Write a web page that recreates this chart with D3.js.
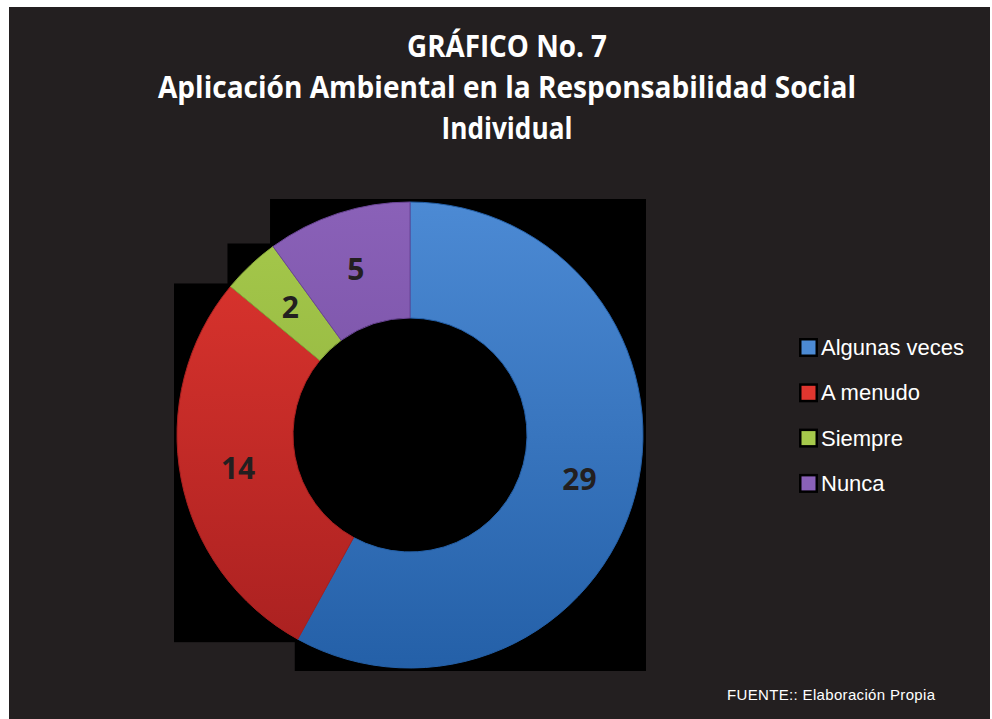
<!DOCTYPE html>
<html>
<head>
<meta charset="utf-8">
<script src="https://cdn.jsdelivr.net/npm/d3@7"></script>
<style>
  body { margin: 0; background: #fff; }
  svg { display: block; }
</style>
</head>
<body>
<svg id="main" width="992" height="719"></svg>
<script>
const categories = [ "Algunas veces", "A menudo", "Siempre", "Nunca" ];
const values = [ 29, 14, 2, 5 ];
const titleLines = [ "GRÁFICO No. 7", "Aplicación Ambiental en la Responsabilidad Social", "Individual" ];
const source = "FUENTE::  Elaboración Propia";

// light / dark end of each slice's gradient
const colorsTop = [ "#4c8ad4", "#e0362f", "#a6c94b", "#8a61b8" ];
const colorsBottom = [ "#2460a8", "#a82020", "#86a83a", "#6a4596" ];

const svg = d3.select("#main");
const defs = svg.append("defs");

// background panel
svg.append("rect")
    .attr("x", 9).attr("y", 7)
    .attr("width", 981).attr("height", 712)
    .attr("fill", "#231f20");

// title
svg.append("g")
    .selectAll("text")
    .data(titleLines)
    .enter()
    .append("text")
    .attr("x", 507)
    .attr("y", (d, i) => 57 + i * 41)
    .attr("text-anchor", "middle")
    .attr("fill", "#fff")
    .attr("font-family", "'Open Sans', sans-serif")
    .attr("font-weight", "bold")
    .attr("font-size", 31)
    .attr("textLength", (d, i) => [200, 698, 131][i])
    .attr("lengthAdjust", "spacingAndGlyphs")
    .text(d => d);

const cx = 410, cy = 435;
const outerR = 233, innerR = 117;

const pie = d3.pie().sort(null).value(d => d);
const arcs = pie(values);
const arc = d3.arc().innerRadius(innerR).outerRadius(outerR);
const labelArc = d3.arc().innerRadius((innerR + outerR) / 2).outerRadius((innerR + outerR) / 2);

// gradients, vertical over the whole ring
colorsTop.forEach((c, i) => {
    const g = defs.append("linearGradient")
        .attr("id", "grad" + i)
        .attr("gradientUnits", "userSpaceOnUse")
        .attr("x1", 0).attr("y1", -outerR)
        .attr("x2", 0).attr("y2", outerR);
    g.append("stop").attr("offset", "0%").attr("stop-color", c);
    g.append("stop").attr("offset", "100%").attr("stop-color", colorsBottom[i]);
});

const chart = svg.append("g").attr("transform", `translate(${cx}, ${cy})`);
const boxes = chart.append("g");

const slices = chart.selectAll(".slice")
    .data(arcs)
    .enter()
    .append("path")
    .classed("slice", true)
    .attr("d", arc)
    .attr("fill", (d, i) => `url(#grad${i})`)
    .attr("stroke", (d, i) => colorsBottom[i])
    .attr("stroke-width", 1);

// black boxes behind each slice (like the original export)
slices.each(function() {
    const b = this.getBBox();
    boxes.append("rect")
        .attr("x", b.x - 3).attr("y", b.y - 3)
        .attr("width", b.width + 6).attr("height", b.height + 6)
        .attr("fill", "#000");
});

// data labels
chart.selectAll(".label")
    .data(arcs)
    .enter()
    .append("text")
    .classed("label", true)
    .attr("transform", d => {
        const c = labelArc.centroid(d);
        return `translate(${c[0]}, ${c[1] + 11})`;
    })
    .attr("text-anchor", "middle")
    .attr("fill", "#231f20")
    .attr("font-family", "'Open Sans', sans-serif")
    .attr("font-weight", "bold")
    .attr("font-size", 30)
    .text(d => d.data);

// legend
const legend = svg.append("g")
    .selectAll(".legend")
    .data(categories)
    .enter()
    .append("g")
    .classed("legend", true)
    .attr("transform", (d, i) => `translate(799, ${338 + i * 45.3})`);

legend.append("rect")
    .attr("width", 19).attr("height", 19)
    .attr("fill", "#000");
legend.append("rect")
    .attr("x", 2.5).attr("y", 2.5)
    .attr("width", 14).attr("height", 14)
    .attr("fill", (d, i) => colorsTop[i]);
legend.append("text")
    .attr("x", 22)
    .attr("y", 17)
    .attr("fill", "#fff")
    .attr("font-family", "'Liberation Sans', Arial, sans-serif")
    .attr("font-size", 22)
    .text(d => d);

// source
svg.append("text")
    .attr("x", 727)
    .attr("y", 700)
    .attr("fill", "#fff")
    .attr("font-family", "'Liberation Sans', Arial, sans-serif")
    .attr("font-size", 15)
    .attr("textLength", 208)
    .text(source);
</script>
</body>
</html>
